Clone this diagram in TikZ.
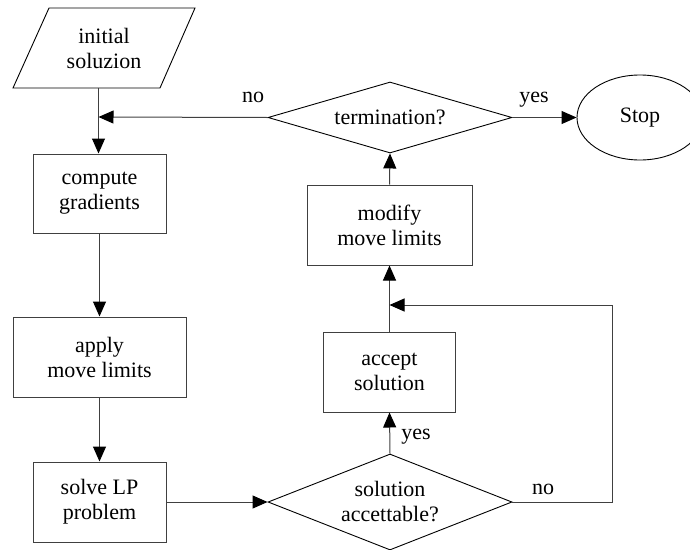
\documentclass[tikz,border=0pt]{standalone}
\usepackage{fontspec}
\setmainfont{Liberation Serif}
\usetikzlibrary{arrows.meta,shapes.geometric}
\begin{document}
\begin{tikzpicture}[x=1pt,y=-1pt,
  font=\fontsize{22}{25}\selectfont,
  box/.style={draw=black!75, line width=1pt, align=center, inner sep=0pt},
  dia/.style={draw, diamond, inner sep=0pt, line width=0.9pt},
  arr/.style={draw=black!75, -{Triangle[length=15pt,width=13pt,color=black]}, line width=1pt},
  con/.style={draw=black!75, line width=1pt},
  lbl/.style={inner sep=0pt}]
\useasboundingbox (0,0) rectangle (690,549);

% nodes
\node[align=center, minimum width=110pt, minimum height=80pt, inner sep=0pt] (init) at (104,48) {initial\\soluzion};
\draw[line width=0.9pt] (49,8) -- (195,8) -- (160,88) -- (13,88) -- cycle;
\coordinate (initb) at (98.5,88);
\coordinate (j1) at (98.5,117);

\node[box, minimum width=133pt, minimum height=79pt] (grad) at (99.5,193.5) {compute\\gradients};
\node[box, minimum width=173pt, minimum height=80pt] (apply) at (99.5,357) {apply\\move limits};
\node[box, minimum width=133pt, minimum height=80pt] (solve) at (99.5,502) {solve LP\\problem};

\node[dia, minimum width=244pt, minimum height=71pt] (term) at (390,117.5) {};
\node[lbl] at (term) {termination?};
\node[draw, ellipse, line width=0.9pt, minimum width=126pt, minimum height=85pt, inner sep=0pt] (stop) at (640,117.5) {Stop};

\node[box, minimum width=165pt, minimum height=80pt] (mod) at (389.5,225) {modify\\move limits};
\node[box, minimum width=132pt, minimum height=80pt] (acc) at (389.5,372) {accept\\solution};
\coordinate (j2) at (389.5,305);

\node[dia, minimum width=244pt, minimum height=96pt] (sol) at (390,502) {};
\node[lbl, align=center] at (sol) {solution\\accettable?};
\coordinate (c1) at (612,502);
\coordinate (c2) at (612,305);

% connectors
\draw[con] (initb) -- (j1);
\draw[arr] (j1) -- (j1 |- grad.north);
\draw[arr] (grad.south) -- (apply.north);
\draw[arr] (apply.south) -- (solve.north);
\draw[arr] (solve.east) -- (sol.west);
\draw[arr] (sol.north) -- (acc.south);
\draw[arr] (acc.north) -- (mod.south);
\draw[arr] (mod.north) -- (term.south);
\draw[arr] (term.west) -- (j1);
\draw[arr] (term.east) -- (stop.west);
\draw[arr] (sol.east) -- (c1) -- (c2) -- (j2);

% labels
\node[lbl] at (253,97) {no};
\node[lbl] at (534,100) {yes};
\node[lbl] at (416,437) {yes};
\node[lbl] at (543,489) {no};
\end{tikzpicture}
\end{document}
